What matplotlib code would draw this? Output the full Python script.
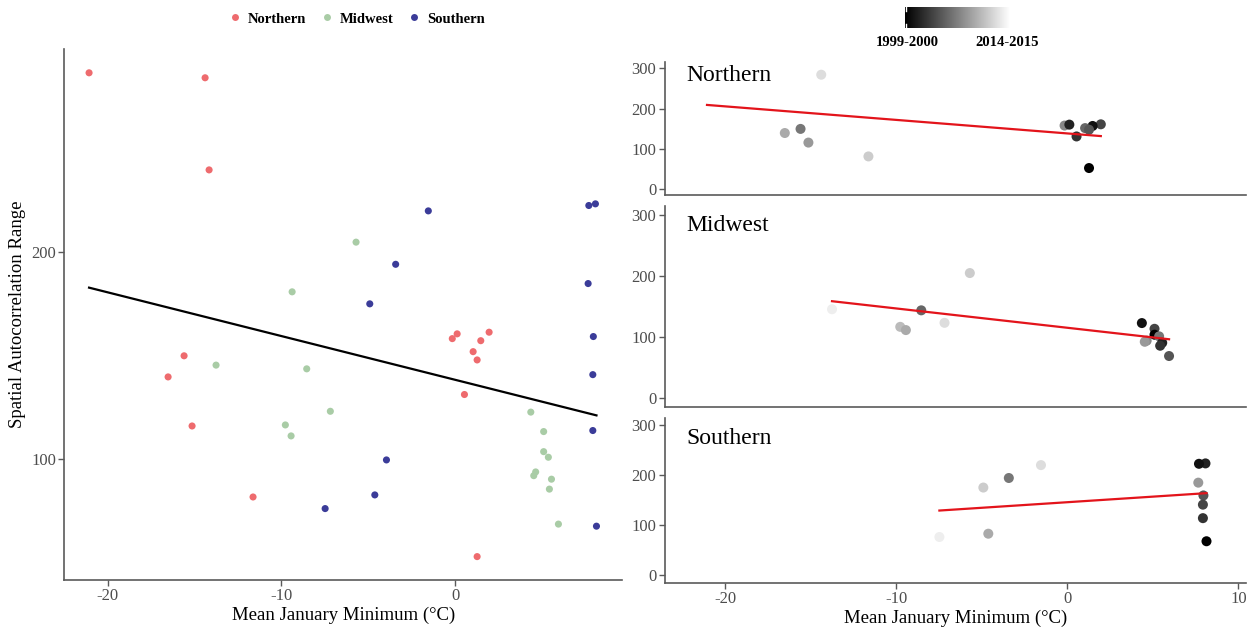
import numpy as np
import matplotlib
matplotlib.use("Agg")
import matplotlib.pyplot as plt
from matplotlib.colors import LinearSegmentedColormap, Normalize
from matplotlib.lines import Line2D

plt.rcParams['font.family'] = ['Liberation Serif', 'DejaVu Serif']
plt.rcParams['axes.unicode_minus'] = False

# ---- data: mean January minimum (°C), spatial autocorrelation range, winter season start year
north_temp = [-21.07, -14.39, -14.16, -15.60, -16.52, -15.14, -11.63, -0.16, 0.12, 1.96, 1.48, 1.04, 1.27, 0.54, 1.27]
north_range = [286.5, 284.1, 239.6, 149.8, 139.6, 115.9, 81.6, 158.1, 160.4, 161.2, 157.1, 151.8, 147.8, 131.1, 52.8]
north_season = [2014, 2012, 2014, 2006, 2009, 2008, 2011, 2007, 2001, 2003, 2000, 2005, 2004, 2002, 1999]

midwest_temp = [-13.76, -9.38, -8.54, -9.77, -9.44, -7.18, -5.70, 4.36, 5.10, 5.10, 5.37, 4.64, 4.53, 5.55, 5.43, 5.95]
midwest_range = [145.3, 180.7, 143.5, 116.4, 111.1, 123.0, 204.7, 122.6, 113.2, 103.5, 100.8, 93.7, 91.9, 90.2, 85.4, 68.5]
midwest_season = [2013, 2014, 2005, 2010, 2009, 2012, 2011, 2000, 2003, 1999, 2006, 2007, 2008, 2001, 2002, 2004]

south_temp = [-3.95, -7.48, -1.54, -4.91, -4.62, 7.66, -3.42, 7.96, 7.93, 7.93, 8.08, 7.70, 8.14]
south_range = [99.5, 76.0, 219.8, 174.9, 82.6, 184.7, 194.0, 159.1, 140.7, 113.7, 223.2, 222.4, 67.5]
south_season = [2014, 2013, 2012, 2011, 2009, 2008, 2006, 2004, 2003, 2002, 2001, 2000, 1999]

regions = ["Northern", "Midwest", "Southern"]
region_colors = ["#EE6B6E", "#A9CCA6", "#3B3C99"]
temps = [north_temp, midwest_temp, south_temp]
ranges = [north_range, midwest_range, south_range]
seasons = [north_season, midwest_season, south_season]

W, H = 1250, 627
fig = plt.figure(figsize=(W / 100, H / 100), dpi=100)

AX_COLOR = "#5a5a5a"
TICK_LABEL = "#4d4d4d"


def style_axes(ax):
    for side in ("top", "right"):
        ax.spines[side].set_visible(False)
    for side in ("left", "bottom"):
        ax.spines[side].set_color(AX_COLOR)
        ax.spines[side].set_linewidth(1.2)
    ax.tick_params(length=4, width=1, color=AX_COLOR, labelcolor=TICK_LABEL,
                   labelsize=12, pad=2)


def fig_rect(x0, y0, x1, y1):
    return [x0 / W, 1 - y1 / H, (x1 - x0) / W, (y1 - y0) / H]


# ---- left: all regions pooled
ax = fig.add_axes(fig_rect(64.4, 49, 622, 580))
style_axes(ax)
for t, r, c in zip(temps, ranges, region_colors):
    ax.scatter(t, r, s=26, color=c, edgecolors="none", zorder=2)
all_t = np.concatenate(temps)
all_r = np.concatenate(ranges)
slope, icpt = np.polyfit(all_t, all_r, 1)
xs = np.array([all_t.min(), all_t.max()])
ax.plot(xs, icpt + slope * xs, color="black", lw=1.6, zorder=3)
ax.set_xlim(-22.49, 9.61)
ax.set_ylim(41.5, 298)
ax.set_xticks([-20, -10, 0])
ax.set_yticks([100, 200])
ax.set_xlabel("Mean January Minimum (°C)", fontsize=13.5, labelpad=2)
ax.set_ylabel("Spatial Autocorrelation Range", fontsize=13.5, labelpad=4)

# legend for regions
handles = [Line2D([], [], marker="o", ls="none", ms=5, color=c, markeredgewidth=0)
           for c in region_colors]
fig.legend(handles, regions, loc="center", bbox_to_anchor=(357 / W, 1 - 19 / H),
           ncol=3, frameon=False, handlelength=0.8, handletextpad=0.5,
           columnspacing=1.0, prop={"weight": "bold", "size": 10.5})

# ---- right: one panel per region, points shaded by season
cmap = LinearSegmentedColormap.from_list("season", ["#000000", "#ffffff"])
all_seasons = np.concatenate(seasons)
norm = Normalize(vmin=all_seasons.min(), vmax=all_seasons.max())

panel_rows = [(62.25, 195.4), (205.85, 406.9), (417.5, 582.5)]
label_y = [283, 283, 274]
for i, (name, t, r, s) in enumerate(zip(regions, temps, ranges, seasons)):
    y0, y1 = panel_rows[i]
    a = fig.add_axes(fig_rect(664.6, y0, 1246, y1))
    style_axes(a)
    a.scatter(t, r, s=52, c=s, cmap=cmap, norm=norm, edgecolors="none", zorder=2)
    t_arr = np.asarray(t)
    m, b = np.polyfit(t_arr, np.asarray(r), 1)
    xx = np.array([t_arr.min(), t_arr.max()])
    a.plot(xx, b + m * xx, color="#E3141B", lw=1.6, zorder=3)
    a.set_xlim(-23.55, 10.45)
    a.set_ylim(-15, 315)
    a.set_yticks([0, 100, 200, 300])
    a.text(-22.3, label_y[i], name, fontsize=17, ha="left", va="center", color="black")
    if i < 2:
        a.tick_params(axis="x", bottom=False, labelbottom=False)
    else:
        a.set_xticks([-20, -10, 0, 10])
        a.set_xlabel("Mean January Minimum (°C)", fontsize=13.5, labelpad=2)

# ---- season colour bar
cax = fig.add_axes(fig_rect(905, 7, 1010, 28))
cax.imshow(np.linspace(0, 1, 256)[None, :], cmap=cmap, aspect="auto",
           extent=(0, 1, 0, 1))
cax.set_xlim(0, 1)
cax.set_ylim(0, 1)
cax.axis("off")
for yy in ((0, 0.18), (0.82, 1)):
    cax.plot([0.012, 0.012], yy, color="white", lw=1)
smin, smax = int(all_seasons.min()), int(all_seasons.max())
fig.text(907 / W, 1 - 42 / H, f"{smin}-{smin + 1}", ha="center", va="center",
         fontsize=10.5, fontweight="bold")
fig.text(1007 / W, 1 - 42 / H, f"{smax}-{smax + 1}", ha="center", va="center",
         fontsize=10.5, fontweight="bold")

fig.savefig("out.png", dpi=100)
